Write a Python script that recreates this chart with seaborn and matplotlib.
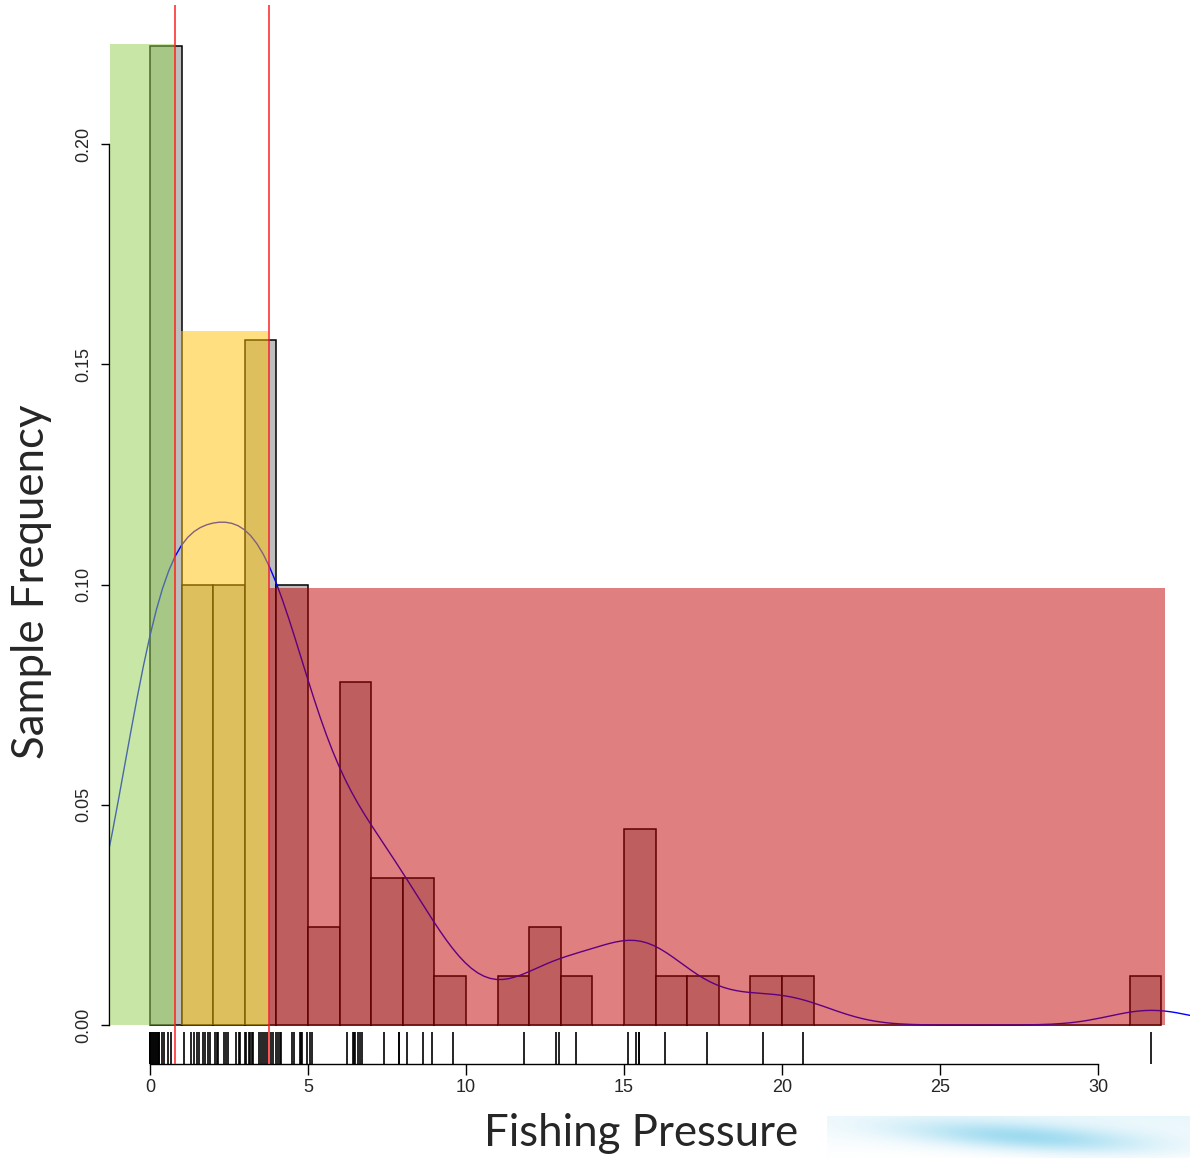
import matplotlib
matplotlib.use("Agg")

import matplotlib.pyplot as plt
import numpy as np
import pandas as pd
import seaborn as sns
from matplotlib.patches import Rectangle

# =============================================================================
# Data (values read off the rug / histogram, n = 90)
# =============================================================================
pressure = [
    # 0-1
    0.0, 0.0, 0.0, 0.0, 0.0, 0.0, 0.03, 0.06, 0.09, 0.12,
    0.15, 0.18, 0.21, 0.24, 0.27, 0.29, 0.39, 0.45, 0.58, 0.67,
    # 1-2
    1.06, 1.29, 1.40, 1.48, 1.56, 1.67, 1.75, 1.84, 1.90,
    # 2-3
    2.04, 2.11, 2.16, 2.34, 2.40, 2.47, 2.71, 2.80, 2.85,
    # 3-4
    3.00, 3.04, 3.13, 3.17, 3.22, 3.27, 3.45, 3.52, 3.58, 3.64,
    3.70, 3.82, 3.90, 3.97,
    # 4-5
    4.05, 4.10, 4.15, 4.49, 4.54, 4.73, 4.77, 4.80, 4.98,
    # 5-10
    5.07, 5.11,
    6.23, 6.41, 6.44, 6.47, 6.58, 6.64, 6.71,
    7.39, 7.87, 7.87,
    8.13, 8.64, 8.92,
    9.59,
    # tail
    11.83, 12.84, 12.94, 13.47,
    15.14, 15.39, 15.46, 15.46,
    16.30, 17.61, 19.41, 20.67, 31.69,
]

# reference points (red lines) and shaded zones
ref_points = [0.79, 3.77]
zone_names = ["low", "medium", "high"]
zone_x0 = [-1.27, 0.98, 3.75]
zone_x1 = [0.79, 3.73, 32.12]
zone_top = [0.2227, 0.1575, 0.0992]
zone_colors = ["#92d050", "#ffc000", "#c00000"]

x_ticks = [0, 5, 10, 15, 20, 25, 30]
y_ticks = [0.00, 0.05, 0.10, 0.15, 0.20]

df = pd.DataFrame({"pressure": pressure})

# R nrd0 bandwidth, expressed as a factor of the sample sd for gaussian_kde
arr = df["pressure"].to_numpy()
sd = arr.std(ddof=1)
iqr = np.subtract(*np.percentile(arr, [75, 25]))
bw = 0.9 * min(sd, iqr / 1.34) * len(arr) ** (-0.2)

# =============================================================================
# Figure
# =============================================================================
sns.set_style("white")
plt.rcParams["font.family"] = ["Liberation Sans", "DejaVu Sans"]

fig = plt.figure(figsize=(11.9, 11.58), dpi=100)

# soft blue slide decoration at the bottom right
deco = fig.add_axes([827 / 1190, 0, 363 / 1190, 42 / 1158], zorder=0)
GX, GY = np.meshgrid(np.linspace(0, 1, 240), np.linspace(0, 1, 60))
centre = 0.2 + 0.55 * GX
band = np.exp(-((GY - centre) / 0.32) ** 2) * np.exp(-((GX - 0.55) / 0.33) ** 2)
tint = 0.25 + 0.2 * GX
strength = np.clip(0.85 * band + tint * (1 - GY) * 0.5, 0, 1)
white = np.array([1.0, 1.0, 1.0])
blue = np.array([0.60, 0.85, 0.94])
img = white + (blue - white) * strength[..., None]
deco.imshow(np.clip(img, 0, 1), aspect="auto", origin="upper", extent=[0, 1, 0, 1])
deco.axis("off")

ax = fig.add_axes([109 / 1190, 1 - 1064 / 1158, 1 - 109 / 1190, 1059 / 1158], zorder=1)
ax.patch.set_alpha(0)

sns.histplot(
    data=df,
    x="pressure",
    stat="probability",
    binwidth=1,
    binrange=(0, 32),
    color="#bebebe",
    edgecolor="black",
    linewidth=1.1,
    alpha=1,
    ax=ax,
    zorder=1,
)

sns.kdeplot(
    data=df,
    x="pressure",
    bw_method=bw / sd,
    bw_adjust=0.95,
    cut=3,
    color="blue",
    linewidth=1,
    ax=ax,
    zorder=2,
)

for x0, x1, top, col in zip(zone_x0, zone_x1, zone_top, zone_colors):
    ax.add_patch(
        Rectangle((x0, 0), x1 - x0, top, facecolor=col, alpha=0.5,
                  edgecolor="none", zorder=3)
    )

for xr in ref_points:
    ax.axvline(xr, color="#ff2020", linewidth=1.1, zorder=4)

sns.rugplot(data=df, x="pressure", height=0.03, color="black",
            linewidth=1.2, ax=ax, zorder=5)

ax.set_xlim(-1.30, 32.91)
ax.set_ylim(-0.00885, 0.23156)

sns.despine(ax=ax, top=True, right=True)
ax.spines["left"].set_bounds(0, 0.2)
ax.spines["bottom"].set_bounds(0, 30)
for side in ("left", "bottom"):
    ax.spines[side].set_color("black")
    ax.spines[side].set_linewidth(1)

ax.set_xticks(x_ticks)
ax.set_xticklabels([str(t) for t in x_ticks])
ax.set_yticks(y_ticks)
ax.set_yticklabels([f"{t:.2f}" for t in y_ticks], rotation=90, va="center")
ax.tick_params(axis="x", direction="out", length=8, width=1, color="black",
               labelsize=13, pad=3, bottom=True)
ax.tick_params(axis="y", direction="out", length=6, width=1, color="black",
               labelsize=13, pad=6, left=True)
ax.set_xlabel("")
ax.set_ylabel("")
ax.grid(False)

fig.text(32 / 1190, 1 - 582 / 1158, "Sample Frequency", rotation=90,
         ha="center", va="center", fontsize=31.5, family=["Lato", "DejaVu Sans"])
fig.text(641 / 1190, 1 - 1134 / 1158, "Fishing Pressure",
         ha="center", va="center", fontsize=31.5, family=["Lato", "DejaVu Sans"])

fig.savefig("out.png", dpi=100)
plt.close(fig)
